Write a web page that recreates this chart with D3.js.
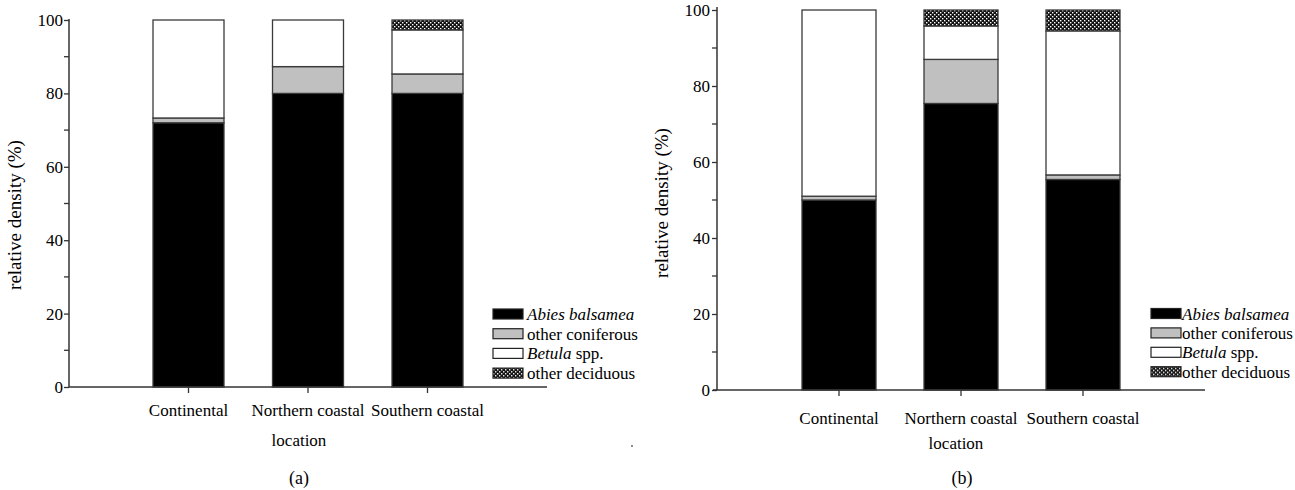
<!DOCTYPE html>
<html>
<head>
<meta charset="utf-8">
<script src="https://cdn.jsdelivr.net/npm/d3@7"></script>
<style>
  body { margin: 0; background: #fff; }
  svg { display: block; font-family: "Liberation Serif", "Times New Roman", serif; }
</style>
</head>
<body>
<svg id="chart" width="1295" height="490"></svg>
<script>
// Categories and series
const locations = ["Continental", "Northern coastal", "Southern coastal"];
const species = ["Abies balsamea", "other coniferous", "Betula spp.", "other deciduous"];

// Panel (a) values, % relative density
const aAbies = [72, 80, 80];
const aOtherConif = [1.3, 7.3, 5.3];
const aBetula = [26.7, 12.7, 12];
const aOtherDecid = [0, 0, 2.7];

// Panel (b) values
const bAbies = [50, 75.4, 55.4];
const bOtherConif = [1, 11.6, 1.2];
const bBetula = [49, 8.8, 37.9];
const bOtherDecid = [0, 4.2, 5.5];

const yTicks = [0, 20, 40, 60, 80, 100];
const yMinorTicks = [10, 30, 50, 70, 90];

const svg = d3.select("#chart");

// hatch pattern for "other deciduous"
const pat = svg.append("defs").append("pattern")
  .attr("id", "hatch")
  .attr("patternUnits", "userSpaceOnUse")
  .attr("width", 4).attr("height", 4);
pat.append("rect").attr("width", 4).attr("height", 4).attr("fill", "#111");
pat.append("rect").attr("x", 0).attr("y", 0).attr("width", 1.4).attr("height", 1.4).attr("fill", "#fff");
pat.append("rect").attr("x", 2).attr("y", 2).attr("width", 1.4).attr("height", 1.4).attr("fill", "#fff");

const fills = ["#000", "#c0c0c0", "#fff", "url(#hatch)"];

function drawPanel(cfg, series) {
  const rows = locations.map((loc, i) => {
    const r = { loc: loc };
    species.forEach((s, k) => r[s] = series[k][i]);
    return r;
  });
  const stacked = d3.stack().keys(species)(rows);

  // x positions: slots 1..3 in a 0..4 domain
  const x = d3.scaleLinear().domain([0, 4]).range([cfg.left, cfg.right]);
  const y = d3.scaleLinear().domain([0, 100]).range([cfg.bottom, cfg.top]);
  const g = svg.append("g");

  // bars
  g.selectAll("g.layer")
    .data(stacked)
    .enter()
    .append("g")
    .attr("class", "layer")
    .attr("fill", (d, k) => fills[k])
    .selectAll("rect")
    .data(d => d.filter(p => p[1] - p[0] > 0))
    .enter()
    .append("rect")
    .attr("x", (p) => x(locations.indexOf(p.data.loc) + 1) - cfg.barW / 2)
    .attr("width", cfg.barW)
    .attr("y", p => y(p[1]))
    .attr("height", p => y(p[0]) - y(p[1]))
    .attr("stroke", "#3a3a3a")
    .attr("stroke-width", 1.3);

  // y axis
  const yAxis = d3.axisLeft(y).tickValues(yTicks).tickSize(5).tickPadding(cfg.tickPad);
  const ya = g.append("g")
    .attr("transform", `translate(${cfg.left},0)`)
    .call(yAxis);
  ya.select(".domain").attr("d", `M0,${cfg.axisTop}V${cfg.bottom}`).attr("stroke", "#333").attr("stroke-width", 1.5);
  ya.selectAll(".tick line").attr("stroke", "#333").attr("stroke-width", 1.3);
  ya.selectAll(".tick text")
    .attr("font-family", "Liberation Serif")
    .attr("font-size", 17)
    .attr("fill", "#000");
  g.selectAll("line.minor")
    .data(yMinorTicks)
    .enter()
    .append("line")
    .attr("class", "minor")
    .attr("x1", cfg.left - 5).attr("x2", cfg.left)
    .attr("y1", d => y(d)).attr("y2", d => y(d))
    .attr("stroke", "#333").attr("stroke-width", 1.3);

  // x axis
  g.append("line")
    .attr("x1", cfg.xAxisStart).attr("x2", cfg.right)
    .attr("y1", cfg.bottom).attr("y2", cfg.bottom)
    .attr("stroke", "#333").attr("stroke-width", 1.5);
  g.selectAll("line.xtick")
    .data(locations)
    .enter()
    .append("line")
    .attr("class", "xtick")
    .attr("x1", (d, i) => x(i + 1)).attr("x2", (d, i) => x(i + 1))
    .attr("y1", cfg.bottom).attr("y2", cfg.bottom + 6)
    .attr("stroke", "#333").attr("stroke-width", 1.3);
  g.selectAll("text.xlab")
    .data(locations)
    .enter()
    .append("text")
    .attr("class", "xlab")
    .attr("x", (d, i) => x(i + 1))
    .attr("y", cfg.xLabY)
    .attr("text-anchor", "middle")
    .attr("font-size", 17)
    .attr("fill", "#000")
    .text(d => d);

  // axis titles
  g.append("text")
    .attr("x", cfg.locX).attr("y", cfg.locY)
    .attr("text-anchor", "middle")
    .attr("font-size", 17).attr("fill", "#000")
    .text("location");
  g.append("text")
    .attr("transform", `translate(${cfg.yTitleX},${cfg.yTitleY}) rotate(-90)`)
    .attr("text-anchor", "middle")
    .attr("font-size", 19).attr("fill", "#000")
    .text("relative density (%)");
  g.append("text")
    .attr("x", cfg.capX).attr("y", cfg.capY)
    .attr("text-anchor", "middle")
    .attr("font-size", 18).attr("fill", "#000")
    .text(cfg.caption);

  // legend
  const leg = g.append("g").attr("transform", `translate(${cfg.legX},${cfg.legY})`);
  const item = leg.selectAll("g")
    .data(species)
    .enter()
    .append("g")
    .attr("transform", (d, i) => `translate(0,${i * cfg.legStep})`);
  item.append("rect")
    .attr("x", 0).attr("y", -5)
    .attr("width", 30).attr("height", 10)
    .attr("fill", (d, i) => fills[i])
    .attr("stroke", "#222").attr("stroke-width", 1.2);
  const lt = item.append("text")
    .attr("x", cfg.legTextX).attr("y", 6)
    .attr("font-size", 17).attr("fill", "#000");
  lt.each(function (d) {
    const t = d3.select(this);
    if (d === "Abies balsamea") {
      t.append("tspan").attr("font-style", "italic").text(d);
    } else if (d === "Betula spp.") {
      t.append("tspan").attr("font-style", "italic").text("Betula");
      t.append("tspan").text(" spp.");
    } else {
      t.text(d);
    }
  });
}

drawPanel({
  left: 69, right: 547, top: 20, bottom: 387, axisTop: 19, xAxisStart: 69, tickPad: 1,
  barW: 71, xLabY: 416, locX: 299, locY: 446, yTitleX: 21, yTitleY: 215,
  capX: 299, capY: 484, caption: "(a)",
  legX: 493, legY: 314, legStep: 19.7, legTextX: 34
}, [aAbies, aOtherConif, aBetula, aOtherDecid]);

drawPanel({
  left: 717, right: 1205, top: 10, bottom: 390, axisTop: 7, xAxisStart: 713, tickPad: 2,
  barW: 74, xLabY: 424, locX: 956, locY: 449, yTitleX: 668, yTitleY: 203,
  capX: 962, capY: 484, caption: "(b)",
  legX: 1151, legY: 313.5, legStep: 19.4, legTextX: 31
}, [bAbies, bOtherConif, bBetula, bOtherDecid]);

// stray dot in the original figure
svg.append("circle").attr("cx", 632).attr("cy", 446).attr("r", 0.9).attr("fill", "#555");
</script>
</body>
</html>
